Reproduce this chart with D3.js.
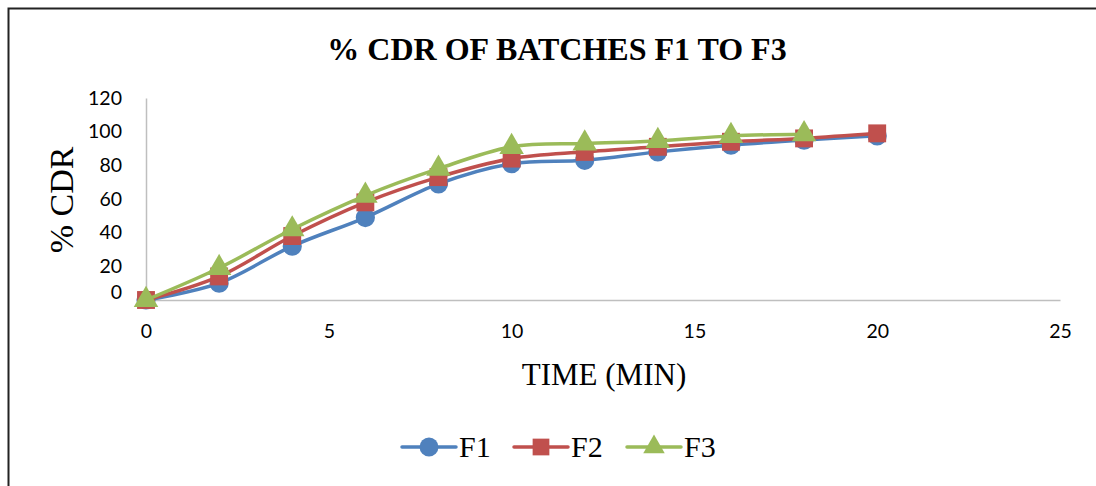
<!DOCTYPE html>
<html>
<head>
<meta charset="utf-8">
<script src="https://cdn.jsdelivr.net/npm/d3@7"></script>
<style>
  body { margin: 0; background: #fff; }
  svg { display: block; }
</style>
</head>
<body>
<svg id="chart" width="1096" height="486"></svg>
<script>
// data
const timeF1 = [0, 2, 4, 6, 8, 10, 12, 14, 16, 18, 20];
const cdrF1 = [0, 10, 32, 49, 69, 81, 83, 88, 92, 95, 97.5];
const timeF2 = [0, 2, 4, 6, 8, 10, 12, 14, 16, 18, 20];
const cdrF2 = [0, 14, 38, 58, 73, 84, 88, 91, 94, 96, 99];
const timeF3 = [0, 2, 4, 6, 8, 10, 12, 14, 16, 18];
const cdrF3 = [0, 19, 42, 62, 78, 91, 93, 94.5, 97.5, 98.5];
const xTicks = [0, 5, 10, 15, 20, 25];
const yTicks = [0, 20, 40, 60, 80, 100, 120];

const series = [
    { name: "F1", color: "#4F81BD", shape: d3.symbolCircle, t: timeF1, v: cdrF1 },
    { name: "F2", color: "#C0504D", shape: d3.symbolSquare, t: timeF2, v: cdrF2 },
    { name: "F3", color: "#9BBB59", shape: d3.symbolTriangle, t: timeF3, v: cdrF3 }
];

const svg = d3.select("#chart");

// outer frame (cut off on the right and bottom in the reference)
svg.append("path")
    .attr("d", "M8.5,1000 L8.5,8.5 L1200,8.5")
    .attr("fill", "none")
    .attr("stroke", "#222")
    .attr("stroke-width", 2);

const x = d3.scaleLinear().domain([0, 25]).range([146, 1060]);
const y = d3.scaleLinear().domain([0, 120]).range([300, 98]);

const xAxis = svg.append("g")
    .attr("transform", `translate(0,${y(0)})`)
    .call(d3.axisBottom(x).tickValues(xTicks).tickSize(0).tickPadding(24));
const yAxis = svg.append("g")
    .attr("transform", `translate(${x(0)},0)`)
    .call(d3.axisLeft(y).tickValues(yTicks).tickSize(0).tickPadding(24));

[xAxis, yAxis].forEach(g => {
    g.select(".domain").attr("stroke", "#BFBFBF").attr("stroke-width", 1.5);
    g.selectAll("text")
        .attr("font-family", "Lato, 'Open Sans', sans-serif")
        .attr("font-size", 19.5)
        .attr("fill", "#000");
});
// the zero label sits a little higher in the reference
yAxis.selectAll(".tick text").filter(d => d === 0).attr("dy", "-0.1em");

// title and axis titles
svg.append("text")
    .attr("x", 557).attr("y", 60)
    .attr("text-anchor", "middle")
    .attr("font-family", "'Liberation Serif', 'Times New Roman', serif")
    .attr("font-weight", "bold")
    .attr("font-size", 32)
    .text("% CDR OF BATCHES F1 TO F3");

svg.append("text")
    .attr("x", 604).attr("y", 385)
    .attr("text-anchor", "middle")
    .attr("font-family", "'Liberation Serif', 'Times New Roman', serif")
    .attr("font-size", 31)
    .text("TIME (MIN)");

svg.append("text")
    .attr("transform", "translate(73,200) rotate(-90)")
    .attr("text-anchor", "middle")
    .attr("font-family", "'Liberation Serif', 'Times New Roman', serif")
    .attr("font-size", 34)
    .text("% CDR");

// lines + markers
const line = d3.line()
    .x(d => x(d[0]))
    .y(d => y(d[1]))
    .curve(d3.curveCatmullRom.alpha(0));

const markerSize = { F1: 290, F2: 320, F3: 260 };

series.forEach(s => {
    const pts = s.t.map((t, i) => [t, s.v[i]]);
    const g = svg.append("g");
    g.append("path")
        .datum(pts)
        .attr("d", line)
        .attr("fill", "none")
        .attr("stroke", s.color)
        .attr("stroke-width", 3.5)
        .attr("stroke-linejoin", "round");
    g.selectAll("path.mk")
        .data(pts)
        .join("path")
        .attr("class", "mk")
        .attr("transform", d => `translate(${x(d[0])},${y(d[1])})`)
        .attr("d", d3.symbol().type(s.shape).size(markerSize[s.name]))
        .attr("fill", s.color);
});

// legend
const legendX = [402, 514, 627];
const legend = svg.append("g").attr("transform", "translate(0,447)");
series.forEach((s, i) => {
    const lx = legendX[i];
    legend.append("line")
        .attr("x1", lx).attr("x2", lx + 54)
        .attr("y1", 0).attr("y2", 0)
        .attr("stroke", s.color)
        .attr("stroke-width", 3.5)
        .attr("stroke-linecap", "round");
    legend.append("path")
        .attr("transform", `translate(${lx + 27},0)`)
        .attr("d", d3.symbol().type(s.shape).size(i === 2 ? 200 : 280))
        .attr("fill", s.color);
    legend.append("text")
        .attr("x", lx + 57).attr("y", 10)
        .attr("font-family", "'Liberation Serif', 'Times New Roman', serif")
        .attr("font-size", 30)
        .text(s.name);
});
</script>
</body>
</html>
